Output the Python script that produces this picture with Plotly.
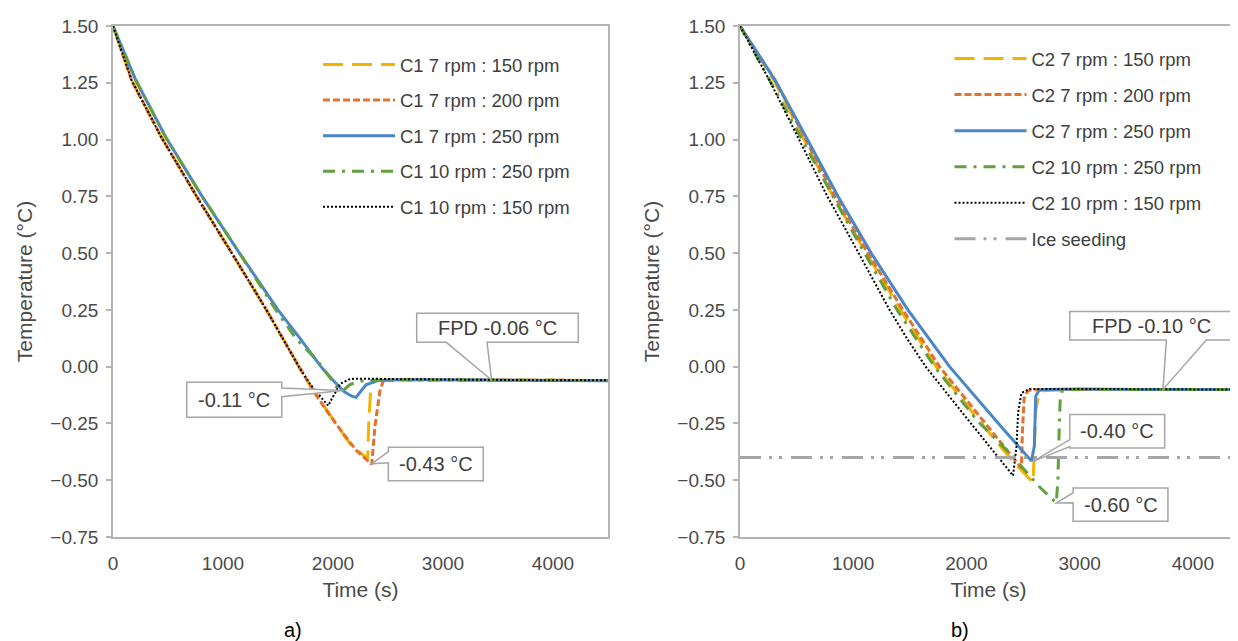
import plotly.graph_objects as go

# ---------------- data: panel a) (C1) ----------------
a_time_7_150 = [0, 170, 440, 760, 1080, 1395, 1690, 1821, 1942, 2155, 2276, 2315, 2325, 2340, 2360, 2400, 2600, 3000, 3500, 4000, 4500]
a_temp_7_150 = [1.50, 1.26, 1.01, 0.75, 0.50, 0.25, 0.00, -0.106, -0.19, -0.34, -0.39, -0.405, -0.25, -0.12, -0.07, -0.06, -0.057, -0.058, -0.059, -0.06, -0.061]

a_time_7_200 = [0, 170, 440, 760, 1080, 1395, 1690, 1821, 1942, 2094, 2215, 2352, 2382, 2427, 2458, 2600, 3000, 3500, 4000, 4500]
a_temp_7_200 = [1.50, 1.26, 1.01, 0.75, 0.50, 0.25, 0.00, -0.106, -0.194, -0.296, -0.37, -0.43, -0.26, -0.106, -0.062, -0.057, -0.058, -0.059, -0.06, -0.061]

a_time_7_250 = [0, 209, 480, 810, 1150, 1500, 1700, 1890, 2000, 2100, 2170, 2210, 2250, 2300, 2400, 2600, 3000, 3500, 4000, 4500]
a_temp_7_250 = [1.50, 1.26, 1.01, 0.75, 0.50, 0.25, 0.125, 0.00, -0.06, -0.11, -0.13, -0.135, -0.11, -0.08, -0.062, -0.058, -0.058, -0.06, -0.06, -0.062]

a_time_10_250 = [0, 209, 480, 810, 1150, 1480, 1670, 1852, 1960, 2033, 2094, 2150, 2215, 2300, 2600, 3000, 3500, 4000, 4500]
a_temp_10_250 = [1.50, 1.26, 1.01, 0.75, 0.50, 0.25, 0.12, 0.03, -0.04, -0.09, -0.105, -0.08, -0.068, -0.06, -0.058, -0.059, -0.06, -0.06, -0.061]

a_time_10_150 = [0, 170, 440, 760, 1080, 1395, 1690, 1791, 1900, 1957, 1980, 2003, 2064, 2155, 2300, 2600, 3000, 3500, 4000, 4500]
a_temp_10_150 = [1.50, 1.26, 1.01, 0.75, 0.50, 0.25, 0.00, -0.076, -0.14, -0.172, -0.15, -0.128, -0.076, -0.054, -0.053, -0.055, -0.057, -0.058, -0.06, -0.06]

# ---------------- data: panel b) (C2) ----------------
b_time_7_150 = [0, 300, 556, 821, 1115, 1418, 1733, 2100, 2400, 2588, 2598, 2610, 2640, 2690, 3000, 3500, 4000, 4390]
b_temp_7_150 = [1.50, 1.26, 1.01, 0.75, 0.50, 0.25, 0.00, -0.23, -0.41, -0.51, -0.40, -0.20, -0.12, -0.105, -0.10, -0.10, -0.10, -0.10]

b_time_7_200 = [0, 312, 571, 836, 1130, 1439, 1762, 2100, 2300, 2486, 2495, 2510, 2540, 2574, 3000, 3500, 4000, 4390]
b_temp_7_200 = [1.50, 1.26, 1.01, 0.75, 0.50, 0.25, 0.00, -0.21, -0.33, -0.446, -0.28, -0.14, -0.108, -0.102, -0.10, -0.10, -0.10, -0.10]

b_time_7_250 = [0, 312, 585, 865, 1159, 1483, 1851, 2100, 2300, 2574, 2600, 2612, 2640, 2700, 3000, 3500, 4000, 4390]
b_temp_7_250 = [1.50, 1.26, 1.01, 0.75, 0.50, 0.25, 0.00, -0.145, -0.26, -0.415, -0.35, -0.13, -0.105, -0.10, -0.098, -0.10, -0.10, -0.10]

b_time_10_250 = [0, 261, 536, 821, 1100, 1388, 1718, 2100, 2400, 2647, 2794, 2808, 2818, 2828, 2845, 2900, 3500, 4000, 4390]
b_temp_10_250 = [1.50, 1.26, 1.01, 0.75, 0.50, 0.25, 0.00, -0.24, -0.39, -0.53, -0.60, -0.50, -0.30, -0.15, -0.108, -0.10, -0.10, -0.10, -0.10]

b_time_10_150 = [0, 261, 512, 771, 1048, 1321, 1480, 1640, 2000, 2200, 2412, 2442, 2457, 2486, 2560, 3000, 3500, 4000, 4390]
b_temp_10_150 = [1.50, 1.26, 1.01, 0.75, 0.50, 0.25, 0.12, 0.00, -0.225, -0.35, -0.48, -0.35, -0.20, -0.116, -0.098, -0.098, -0.10, -0.10, -0.10]

b_time_ice = [0, 4390]
b_temp_ice = [-0.40, -0.40]

# ---------------- labels ----------------
a_names = ["C1 7 rpm : 150 rpm", "C1 7 rpm : 200 rpm", "C1 7 rpm : 250 rpm", "C1 10 rpm : 250 rpm", "C1 10 rpm : 150 rpm"]
b_names = ["C2 7 rpm : 150 rpm", "C2 7 rpm : 200 rpm", "C2 7 rpm : 250 rpm", "C2 10 rpm : 250 rpm", "C2 10 rpm : 150 rpm", "Ice seeding"]
y_ticks = [-0.75, -0.50, -0.25, 0.00, 0.25, 0.50, 0.75, 1.00, 1.25, 1.50]
x_ticks = [0, 1000, 2000, 3000, 4000]

# ---------------- layout geometry ----------------
# the page body has an 8px margin, so the figure is drawn 8px right/down of the window corner
OFF = 8
W, H = 1238 - OFF, 641 - OFF


def px_x(p):
    return (p - OFF) / W


def px_y(p):
    return 1 - (p - OFF) / H


FONT = "Liberation Sans, Arial, sans-serif"
AX = "#B4B4B4"
TXT = "#4A4A4A"
DARK = "#404040"
Y_RANGE = [-0.75, 1.5]
XA_RANGE = [0, 4500]
XB_RANGE = [0, 4390]
XA_DOM = [px_x(113), px_x(608)]
XB_DOM = [px_x(740), px_x(1237)]
Y_DOM = [px_y(537), px_y(26)]

styles = [
    dict(color="#F2B200", width=3, dash="20px,9px"),
    dict(color="#E2722E", width=3, dash="7px,3px"),
    dict(color="#4A86C8", width=3, dash="solid"),
    dict(color="#62A03E", width=3, dash="12px,7px,3px,7px"),
    dict(color="#000000", width=2, dash="2px,2px"),
    dict(color="#A6A6A6", width=3, dash="21px,8px,3px,7px,3px,9px"),
]

fig = go.Figure()

a_series = [(a_time_7_150, a_temp_7_150), (a_time_7_200, a_temp_7_200), (a_time_7_250, a_temp_7_250),
            (a_time_10_250, a_temp_10_250), (a_time_10_150, a_temp_10_150)]
b_series = [(b_time_7_150, b_temp_7_150), (b_time_7_200, b_temp_7_200), (b_time_7_250, b_temp_7_250),
            (b_time_10_250, b_temp_10_250), (b_time_10_150, b_temp_10_150), (b_time_ice, b_temp_ice)]

for i, ((t, T), nm) in enumerate(zip(a_series, a_names)):
    fig.add_trace(go.Scatter(x=t, y=T, mode="lines", name=nm, line=styles[i],
                             xaxis="x", yaxis="y", legend="legend", legendgroup="a%d" % i))
for i, ((t, T), nm) in enumerate(zip(b_series, b_names)):
    fig.add_trace(go.Scatter(x=t, y=T, mode="lines", name=nm, line=styles[i],
                             xaxis="x2", yaxis="y2", legend="legend2", legendgroup="b%d" % i))


def zero_pos():
    return Y_DOM[0] + (0 - Y_RANGE[0]) / (Y_RANGE[1] - Y_RANGE[0]) * (Y_DOM[1] - Y_DOM[0])


def main_x(dom, rng, anchor):
    return dict(domain=dom, range=rng, anchor=anchor, showline=True, linecolor=AX, linewidth=1.5,
                mirror=True, showgrid=False, zeroline=False, tickvals=x_ticks, automargin=False,
                ticks="outside", ticklen=8, tickcolor="rgba(0,0,0,0)",
                tickfont=dict(family=FONT, size=19, color=TXT),
                title=dict(text="Time (s)", font=dict(family=FONT, size=21, color=TXT), standoff=10))


def main_y(dom, anchor):
    return dict(domain=dom, range=Y_RANGE, anchor=anchor, showline=True, linecolor=AX, linewidth=1.5,
                mirror=True, showgrid=False, zeroline=False, tickvals=y_ticks, tickformat=".2f",
                ticks="outside", ticklen=5, tickcolor=AX, tickwidth=1.5, ticklabelstandoff=4,
                automargin=False,
                tickfont=dict(family=FONT, size=19, color=TXT),
                title=dict(text="Temperature (°C)", font=dict(family=FONT, size=21, color=TXT), standoff=12))


def zero_axis(dom, rng, over, side):
    return dict(domain=dom, range=rng, overlaying=over, anchor="free", position=zero_pos(), side=side,
                showline=True, linecolor=AX, linewidth=1.5, showgrid=False, zeroline=False,
                tickvals=x_ticks[1:], ticks="outside", ticklen=6, tickwidth=1.5, tickcolor=AX,
                showticklabels=False, automargin=False)


leg_font = dict(family=FONT, size=18.5, color=DARK)
fig.update_layout(
    width=W, height=H, autosize=False,
    margin=dict(l=0, r=0, t=0, b=0, autoexpand=False),
    paper_bgcolor="white", plot_bgcolor="white",
    showlegend=True,
    xaxis=main_x(XA_DOM, XA_RANGE, "y"),
    yaxis=main_y(Y_DOM, "x"),
    xaxis2=main_x(XB_DOM, XB_RANGE, "y2"),
    yaxis2=main_y(Y_DOM, "x2"),
    xaxis3=zero_axis(XA_DOM, XA_RANGE, "x", "bottom"),
    xaxis4=zero_axis(XA_DOM, XA_RANGE, "x", "top"),
    xaxis5=zero_axis(XB_DOM, XB_RANGE, "x2", "bottom"),
    xaxis6=zero_axis(XB_DOM, XB_RANGE, "x2", "top"),
    legend=dict(x=px_x(318), y=px_y(46), xanchor="left", yanchor="top", itemwidth=72,
                font=leg_font, tracegroupgap=8.5, bgcolor="rgba(0,0,0,0)"),
    legend2=dict(x=px_x(949.5), y=px_y(40), xanchor="left", yanchor="top", itemwidth=72,
                 font=leg_font, tracegroupgap=9, bgcolor="rgba(0,0,0,0)"),
)


# ---------------- callouts (box + wedge) ----------------
def callout(xref, yref, box, side, base, tip, text):
    x0, x1, yb, yt = box
    pts = [(x0, yt)]
    if side == "top":
        pts += [(min(base), yt), tip, (max(base), yt)]
    pts.append((x1, yt))
    if side == "right":
        pts += [(x1, max(base)), tip, (x1, min(base))]
    pts.append((x1, yb))
    if side == "bottom":
        pts += [(max(base), yb), tip, (min(base), yb)]
    pts.append((x0, yb))
    if side == "left":
        pts += [(x0, min(base)), tip, (x0, max(base))]
    path = "M " + " L ".join("%g,%g" % p for p in pts) + " Z"
    fig.add_shape(type="path", path=path, xref=xref, yref=yref, fillcolor="white",
                  line=dict(color="#A6A6A6", width=1.5), layer="above")
    fig.add_annotation(x=(x0 + x1) / 2, y=(yb + yt) / 2, xref=xref, yref=yref, text=text,
                       xanchor="center", yanchor="middle",
                       showarrow=False, font=dict(family=FONT, size=20, color=DARK))


callout("x", "y", (2761, 4230, 0.107, 0.235), "bottom", (3030, 3400), (3442, -0.059), "FPD -0.06 °C")
callout("x", "y", (670, 1534, -0.223, -0.069), "right", (-0.094, -0.132), (2094, -0.105), "-0.11 °C")
callout("x", "y", (2503, 3366, -0.502, -0.355), "left", (-0.374, -0.423), (2352, -0.428), "-0.43 °C")
callout("x2", "y2", (2913, 4351, 0.117, 0.243), "bottom", (3766, 4119), (3736, -0.10), "FPD -0.10 °C")
callout("x2", "y2", (2913, 3751, -0.358, -0.211), "left", (-0.321, -0.352), (2585, -0.418), "-0.40 °C")
callout("x2", "y2", (2942, 3780, -0.681, -0.534), "left", (-0.555, -0.599), (2795, -0.60), "-0.60 °C")

fig.add_annotation(x=px_x(293), y=px_y(630), xref="paper", yref="paper", text="a)", showarrow=False,
                   xanchor="center", yanchor="middle", font=dict(family=FONT, size=20, color="#000000"))
fig.add_annotation(x=px_x(960), y=px_y(630), xref="paper", yref="paper", text="b)", showarrow=False,
                   xanchor="center", yanchor="middle", font=dict(family=FONT, size=20, color="#000000"))

fig.write_html("out.html")
